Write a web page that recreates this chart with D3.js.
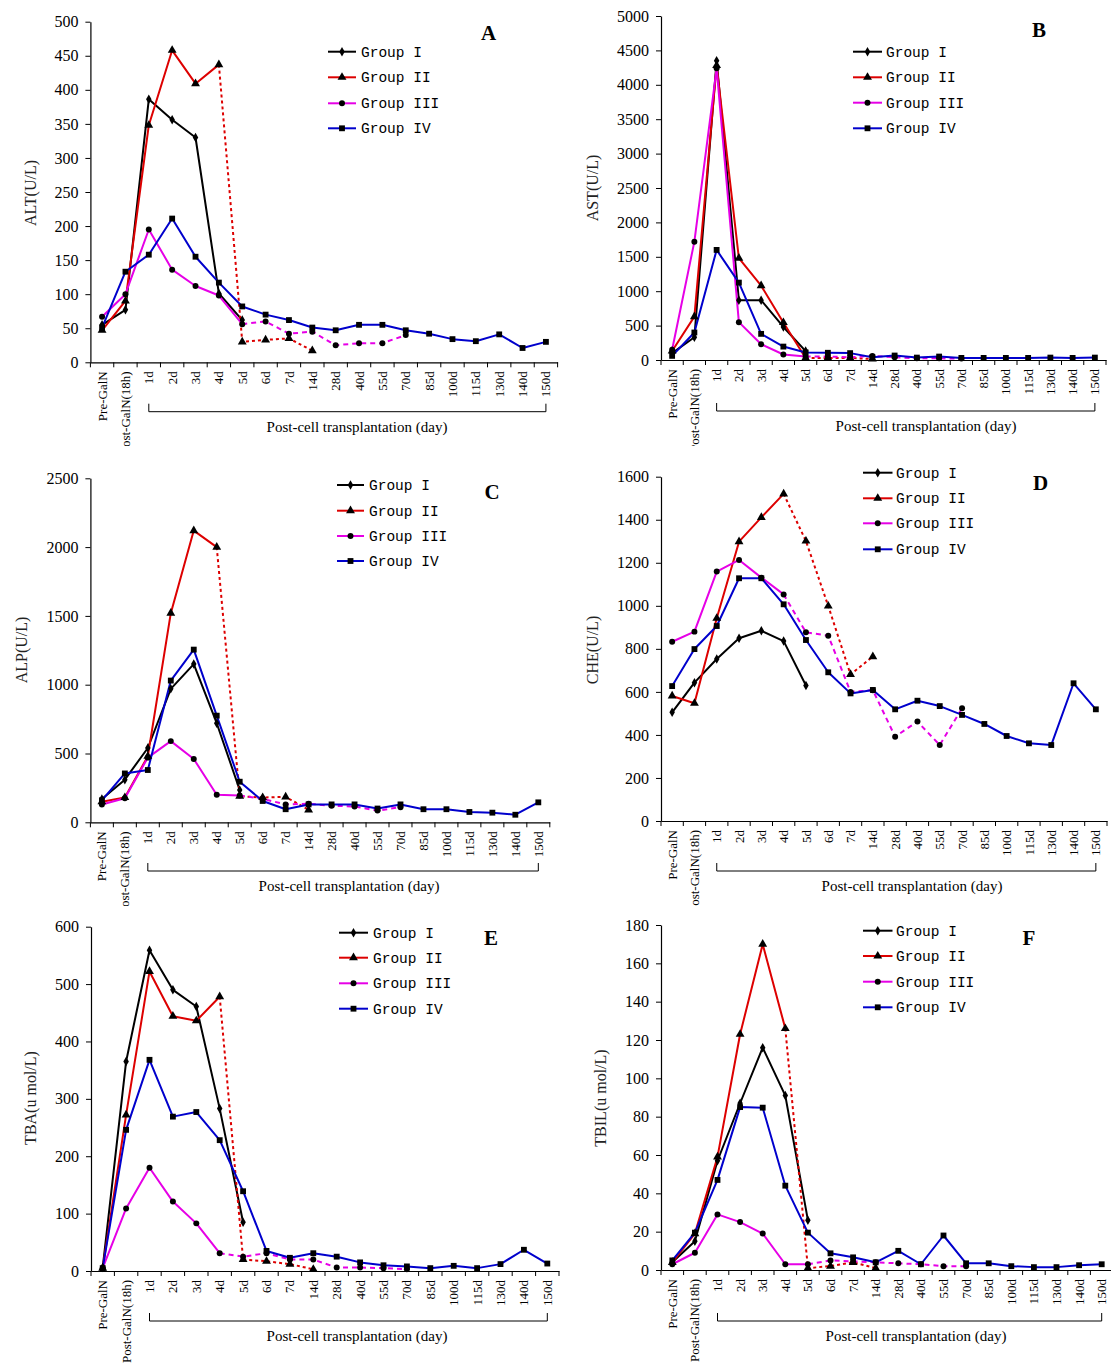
<!DOCTYPE html>
<html><head><meta charset="utf-8">
<script src="https://cdn.jsdelivr.net/npm/d3@7"></script>
<style>body{margin:0;background:#fff} svg{display:block}</style>
</head><body>
<script>
const categories = ["Pre-GalN","Post-GalN(18h)","1d","2d","3d","4d","5d","6d","7d","14d","28d","40d","55d","70d","85d","100d","115d","130d","140d","150d"];
const groupNames = ["Group I","Group II","Group III","Group IV"];
const _ = null;

// ALT (U/L)
const altG1 = [55, 77, 386, 356, 330, 101, 62, _, _, _, _, _, _, _, _, _, _, _, _, _];
const altG2 = [47, 90, 348, 458, 409, 437, 30, 33, 35, 17, _, _, _, _, _, _, _, _, _, _];
const altG3 = [67, 100, 195, 136, 112, 98, 56, 60, 42, 45, 25, 28, 28, 40, _, _, _, _, _, _];
const altG4 = [51, 133, 158, 211, 155, 117, 82, 70, 62, 51, 47, 55, 55, 47, 42, 34, 31, 41, 21, 30];

// AST (U/L)
const astG1 = [100, 330, 4350, 870, 870, 480, 130, _, _, _, _, _, _, _, _, _, _, _, _, _];
const astG2 = [130, 630, 4280, 1480, 1080, 545, 30, 30, 30, 15, _, _, _, _, _, _, _, _, _, _];
const astG3 = [150, 1720, 4240, 550, 230, 80, 50, 50, 40, 60, 40, 25, 25, 20, _, _, _, _, _, _];
const astG4 = [60, 400, 1600, 1125, 380, 195, 110, 105, 100, 40, 65, 35, 50, 30, 30, 30, 30, 35, 30, 35];

// ALP (U/L)
const alpG1 = [170, 310, 540, 970, 1150, 720, 235, _, _, _, _, _, _, _, _, _, _, _, _, _];
const alpG2 = [150, 180, 480, 1520, 2120, 2000, 190, 180, 185, 90, _, _, _, _, _, _, _, _, _, _];
const alpG3 = [130, 175, 470, 590, 460, 200, 195, 170, 130, 135, 120, 115, 85, 110, _, _, _, _, _, _];
const alpG4 = [160, 355, 380, 1030, 1255, 775, 295, 155, 95, 130, 130, 130, 100, 130, 95, 95, 75, 70, 55, 145];

// CHE (U/L)
const cheG1 = [505, 643, 753, 849, 884, 836, 630, _, _, _, _, _, _, _, _, _, _, _, _, _];
const cheG2 = [581, 547, 942, 1298, 1411, 1520, 1301, 999, 681, 764, _, _, _, _, _, _, _, _, _, _];
const cheG3 = [833, 880, 1159, 1213, 1131, 1053, 877, 861, 600, 608, 392, 462, 353, 524, _, _, _, _, _, _];
const cheG4 = [627, 799, 906, 1128, 1128, 1007, 841, 691, 593, 609, 519, 559, 534, 493, 451, 395, 361, 353, 640, 519];

// TBA (u mol/L)
const tbaG1 = [6, 365, 559, 490, 461, 283, 85, _, _, _, _, _, _, _, _, _, _, _, _, _];
const tbaG2 = [5, 272, 522, 444, 436, 478, 20, 17, 12, 3, _, _, _, _, _, _, _, _, _, _];
const tbaG3 = [5, 109, 180, 121, 83, 31, 25, 31, 20, 20, 6, 6, 5, 3, _, _, _, _, _, _];
const tbaG4 = [5, 246, 368, 269, 277, 228, 139, 35, 23, 31, 25, 15, 10, 8, 5, 9, 5, 12, 37, 13];

// TBIL (u mol/L)
const tbilG1 = [4, 15, 57, 87, 116, 91, 26, _, _, _, _, _, _, _, _, _, _, _, _, _];
const tbilG2 = [4, 19, 59, 123, 170, 126, 1, 2, 4, 1, _, _, _, _, _, _, _, _, _, _];
const tbilG3 = [3, 9, 29, 25, 19, 3, 3, 5, 4.5, 4, 3.5, 3, 2, 2, _, _, _, _, _, _];
const tbilG4 = [5, 19.5, 47, 85, 84.7, 44, 19.5, 8.7, 6.6, 4, 10, 3, 18, 3.5, 3.5, 2, 1.5, 1.5, 2.5, 3];

// index of category from which the line is drawn dotted (per group)
const altDashFrom = [_, 5, 6, _];
const astDashFrom = [_, 6, 6, _];
const alpDashFrom = [_, 5, 6, _];
const cheDashFrom = [_, 5, 5, _];
const tbaDashFrom = [_, 5, 5, _];
const tbilDashFrom = [_, 5, 6, _];

const colors = ["#000000", "#dd0000", "#e600e6", "#0000cc"];
const dashes = [null, "3,3", "5,4", null];
const symbols = [
  d3.symbol().type(d3.symbolDiamond).size(26),
  d3.symbol().type(d3.symbolTriangle).size(34),
  d3.symbol().type(d3.symbolCircle).size(28),
  d3.symbol().type(d3.symbolSquare).size(34)
];

const panels = [
  {letter:"A", title:"ALT(U/L)", series:[altG1,altG2,altG3,altG4], dashFrom:altDashFrom, max:500, step:50,
   axisX:90.4, yTop:21.7, yBot:362.3, band:23.36, titleX:30, titleY:193,
   lx1:328, lx2:356, tx:361, rows:[51.7,77.3,103.3,128.3], letX:488.6, letY:33,
   brY:411.7, xlX:357, clip:"clipTop"},
  {letter:"B", title:"AST(U/L)", series:[astG1,astG2,astG3,astG4], dashFrom:astDashFrom, max:5000, step:500,
   axisX:661, yTop:16, yBot:360, band:22.25, titleX:592, titleY:188,
   lx1:853, lx2:882, tx:886, rows:[51.7,77.3,102.7,128.3], letX:1039, letY:30,
   brY:411, xlX:926, clip:"clipTop"},
  {letter:"C", title:"ALP(U/L)", series:[alpG1,alpG2,alpG3,alpG4], dashFrom:alpDashFrom, max:2500, step:500,
   axisX:90.4, yTop:478.3, yBot:822.3, band:22.97, titleX:21, titleY:650,
   lx1:337, lx2:364, tx:369, rows:[485,510.7,536,561], letX:492, letY:491.7,
   brY:871, xlX:349, clip:"clipMid"},
  {letter:"D", title:"CHE(U/L)", series:[cheG1,cheG2,cheG3,cheG4], dashFrom:cheDashFrom, max:1600, step:200,
   axisX:661, yTop:476.7, yBot:821, band:22.3, titleX:592, titleY:650,
   lx1:863, lx2:892.5, tx:896, rows:[472.7,498.3,523.3,549.3], letX:1040.7, letY:482.7,
   brY:871, xlX:912, clip:"clipMid"},
  {letter:"E", title:"TBA(u mol/L)", series:[tbaG1,tbaG2,tbaG3,tbaG4], dashFrom:tbaDashFrom, max:600, step:100,
   axisX:91, yTop:926.7, yBot:1271, band:23.4, titleX:30, titleY:1098,
   lx1:339, lx2:368, tx:373, rows:[932.7,957.7,983.3,1008.7], letX:491, letY:938,
   brY:1321, xlX:357, clip:"clipBot"},
  {letter:"F", title:"TBIL(u mol/L)", series:[tbilG1,tbilG2,tbilG3,tbilG4], dashFrom:tbilDashFrom, max:180, step:20,
   axisX:661, yTop:925, yBot:1270, band:22.6, titleX:600, titleY:1098,
   lx1:863, lx2:892.5, tx:896, rows:[930.7,956,981.7,1007.3], letX:1029, letY:938,
   brY:1321, xlX:916, clip:"clipBot"}
];

const svg = d3.select("body").append("svg").attr("width",1111).attr("height",1368);
const defs = svg.append("defs");
[["clipTop",0,446],["clipMid",446,460],["clipBot",906,462]].forEach(([id,y0,h]) => {
  defs.append("clipPath").attr("id",id).append("rect").attr("x",0).attr("y",y0).attr("width",1111).attr("height",h);
});

const SERIF = "'Liberation Serif','Times New Roman',serif";
const MONO = "'Liberation Mono','Courier New',monospace";

panels.forEach(cfg => {
  const g = svg.append("g").attr("clip-path", `url(#${cfg.clip})`);
  const x = d3.scaleBand().domain(categories).range([cfg.axisX, cfg.axisX + cfg.band*categories.length]);
  const y = d3.scaleLinear().domain([0, cfg.max]).range([cfg.yBot, cfg.yTop]);
  const cx = i => x(categories[i]) + x.bandwidth()/2;

  // y axis
  const ya = g.append("g").attr("transform",`translate(${cfg.axisX},0)`)
    .call(d3.axisLeft(y).tickValues(d3.range(0, cfg.max + cfg.step/2, cfg.step))
      .tickSize(5).tickSizeOuter(0).tickPadding(7).tickFormat(d3.format("d")));
  ya.select(".domain").attr("stroke","#000").attr("stroke-width",1.2);
  ya.selectAll(".tick line").attr("stroke","#000");
  ya.selectAll("text").attr("font-family",SERIF).attr("font-size",16).attr("fill","#000");

  // x axis
  const xa = g.append("g").attr("transform",`translate(0,${cfg.yBot})`)
    .call(d3.axisBottom(x).tickSize(0).tickSizeOuter(0));
  xa.select(".domain").attr("stroke","#000").attr("stroke-width",1.2);
  xa.selectAll("text").attr("transform","rotate(-90)").attr("text-anchor","end")
    .attr("x",-9).attr("y",0).attr("dy","0.35em")
    .attr("font-family",SERIF).attr("font-size",13).attr("fill","#000");
  // boundary ticks
  g.append("g").selectAll("line").data(d3.range(categories.length + 1)).join("line")
    .attr("x1", i => cfg.axisX + i*x.bandwidth()).attr("x2", i => cfg.axisX + i*x.bandwidth())
    .attr("y1", cfg.yBot).attr("y2", cfg.yBot + 5).attr("stroke","#000");

  // y title
  g.append("text").attr("transform",`translate(${cfg.titleX},${cfg.titleY}) rotate(-90)`)
    .attr("text-anchor","middle").attr("dy","0.35em")
    .attr("font-family",SERIF).attr("font-size",16).attr("fill","#222").text(cfg.title);

  // bracket + label
  const bx1 = cx(2), bx2 = cx(categories.length - 1);
  g.append("path").attr("d",`M${bx1},${cfg.brY-8}V${cfg.brY}H${bx2}V${cfg.brY-8}`)
    .attr("fill","none").attr("stroke","#000").attr("stroke-width",1);
  g.append("text").attr("x",cfg.xlX).attr("y",cfg.brY+20).attr("text-anchor","middle")
    .attr("font-family",SERIF).attr("font-size",15).attr("fill","#000").text("Post-cell transplantation (day)");

  // lines
  const line = d3.line().x(d => cx(d.i)).y(d => y(d.v));
  cfg.series.forEach((vals, k) => {
    const pts = vals.map((v,i) => ({i, v})).filter(d => d.v != null);
    const df = cfg.dashFrom[k] == null ? Infinity : cfg.dashFrom[k];
    const solid = pts.filter(d => d.i <= df);
    const dashed = pts.filter(d => d.i >= df);
    if (solid.length > 1) g.append("path").attr("d", line(solid)).attr("fill","none")
      .attr("stroke",colors[k]).attr("stroke-width",2).attr("stroke-linejoin","round");
    if (dashed.length > 1) g.append("path").attr("d", line(dashed)).attr("fill","none")
      .attr("stroke",colors[k]).attr("stroke-width",2).attr("stroke-dasharray",dashes[k] || "3,3");
  });
  // markers
  cfg.series.forEach((vals, k) => {
    g.append("g").selectAll("path").data(vals.map((v,i)=>({i,v})).filter(d => d.v != null)).join("path")
      .attr("d", symbols[k]).attr("transform", d => `translate(${cx(d.i)},${y(d.v)})`).attr("fill","#000");
  });

  // legend
  groupNames.forEach((name, k) => {
    const ry = cfg.rows[k];
    g.append("line").attr("x1",cfg.lx1).attr("x2",cfg.lx2).attr("y1",ry).attr("y2",ry)
      .attr("stroke",colors[k]).attr("stroke-width",2);
    g.append("path").attr("d",symbols[k]).attr("transform",`translate(${(cfg.lx1+cfg.lx2)/2},${ry})`).attr("fill","#000");
    g.append("text").attr("x",cfg.tx).attr("y",ry).attr("dy","0.35em")
      .attr("font-family",MONO).attr("font-size",14.5).attr("fill","#000").text(name);
  });

  // panel letter
  g.append("text").attr("x",cfg.letX).attr("y",cfg.letY).attr("dy","0.35em").attr("text-anchor","middle")
    .attr("font-family",SERIF).attr("font-weight","bold").attr("font-size",21).attr("fill","#000").text(cfg.letter);
});
</script>
</body></html>
